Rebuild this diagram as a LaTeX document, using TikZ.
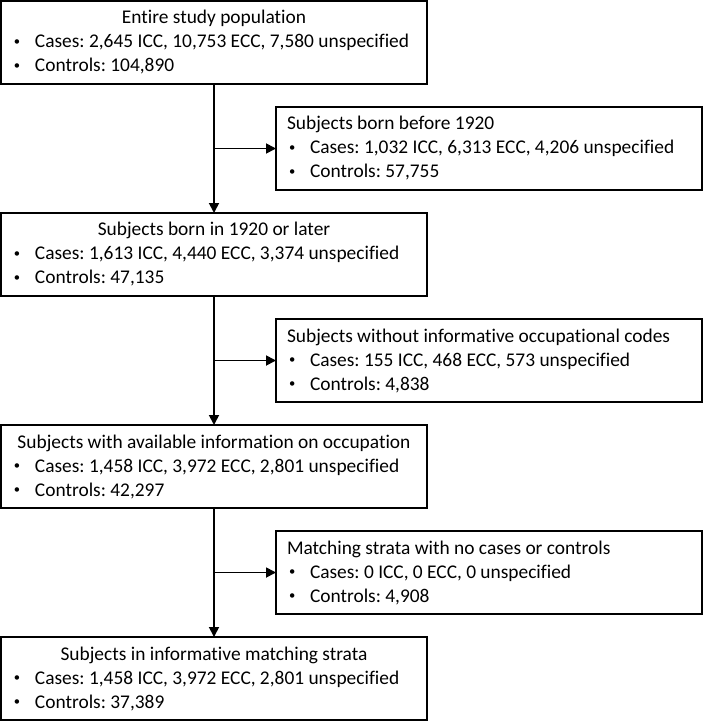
\documentclass[tikz,border=0pt]{standalone}
\usepackage{fontspec}
\setmainfont{Carlito}[Ligatures=NoCommon]
\frenchspacing
\usetikzlibrary{arrows.meta,positioning}
\newcommand{\boxtitle}[1]{\hfill #1\hfill\null}
\newcommand{\bitem}[1]{\makebox[23pt][l]{\hspace{2pt}\raisebox{2.4pt}{\scalebox{.65}{\textbullet}}}#1}

\begin{document}
\begin{tikzpicture}[x=1pt,y=1pt,node distance=129pt,
    font=\fontsize{19.4pt}{24pt}\selectfont,
    flowbox/.style={draw,line width=1.8pt,text width=404pt,inner xsep=11pt,inner ysep=0pt,
      minimum height=83pt,outer sep=0pt,align=flush left},
    flowarr/.style={line width=1.8pt,-{Triangle[length=10pt,width=10pt]}}]
        \useasboundingbox (0,0) rectangle (703,-721);
        \node[flowbox,anchor=north west] (pop) at (1,-1) {\boxtitle{Entire study population}\\
          \bitem{Cases: 2,645 ICC, 10,753 ECC, 7,580 unspecified}\\ \bitem{Controls: 104,890}};
        \node[flowbox,below right=23pt and -151pt of pop] (early) {Subjects born before 1920\\
          \bitem{Cases: 1,032 ICC, 6,313 ECC, 4,206 unspecified}\\ \bitem{Controls: 57,755}};
        \node[flowbox,below=of pop] (later) {\boxtitle{Subjects born in 1920 or later}\\
          \bitem{Cases: 1,613 ICC, 4,440 ECC, 3,374 unspecified}\\ \bitem{Controls: 47,135}};
        \node[flowbox,below=of early] (nocode) {Subjects without informative occupational codes\\
          \bitem{Cases: 155 ICC, 468 ECC, 573 unspecified}\\ \bitem{Controls: 4,838}};
        \node[flowbox,below=of later] (occup) {\boxtitle{Subjects with available information on occupation}\\
          \bitem{Cases: 1,458 ICC, 3,972 ECC, 2,801 unspecified}\\ \bitem{Controls: 42,297}};
        \node[flowbox,below=of nocode] (empty) {Matching strata with no cases or controls\\
          \bitem{Cases: 0 ICC, 0 ECC, 0 unspecified}\\ \bitem{Controls: 4,908}};
        \node[flowbox,below=of occup] (strata) {\boxtitle{Subjects in informative matching strata}\\
          \bitem{Cases: 1,458 ICC, 3,972 ECC, 2,801 unspecified}\\ \bitem{Controls: 37,389}};
        \draw[flowarr] (pop) -- (later);
        \draw[flowarr] (later) -- (occup);
        \draw[flowarr] (occup) -- (strata);
        \draw[flowarr] (pop.south |- early.west) -- (early.west);
        \draw[flowarr] (later.south |- nocode.west) -- (nocode.west);
        \draw[flowarr] (occup.south |- empty.west) -- (empty.west);
      \end{tikzpicture}
\end{document}
